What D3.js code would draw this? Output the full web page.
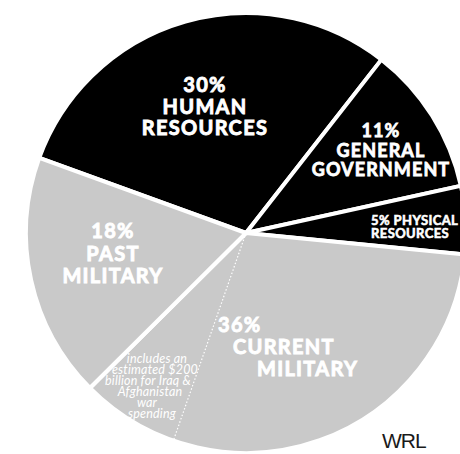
<!DOCTYPE html>
<html><head><meta charset="utf-8">
<script src="https://cdnjs.cloudflare.com/ajax/libs/d3/7.8.5/d3.min.js"></script>
<style>body{margin:0;background:#fff}svg{display:block}</style>
</head><body>
<svg id="c" width="460" height="454"></svg>
<script>
const categories = ["HUMAN RESOURCES","GENERAL GOVERNMENT","PHYSICAL RESOURCES","CURRENT MILITARY","PAST MILITARY"];
const values = [30, 11, 5, 36, 18];
const percentLabels = ["30%","11%","5%","36%","18%"];
const sliceTone = ["dark","dark","dark","light","light"];
// share of total (percent) inside Current Military that is Iraq & Afghanistan war spending
const warSpendingShare = [7.2];
const noteLines = ["includes an","estimated $200","billion for Iraq &","Afghanistan","war","spending"];

const svg = d3.select("#c");
const cx = 246, cy = 233, R = 220;
const g = svg.append("g").attr("transform", `translate(${cx},${cy})`);
const start = -70 * Math.PI / 180;
const pie = d3.pie().sort(null).value(d => d).startAngle(start).endAngle(start + 2 * Math.PI);
const arcs = pie(values);
const arc = d3.arc().innerRadius(0).outerRadius(R);
const color = d3.scaleOrdinal().domain(["dark","light"]).range(["#000000","#c9c9c9"]);

g.selectAll("path.slice").data(arcs).join("path")
  .attr("class","slice")
  .attr("d", arc)
  .attr("fill", (d,i) => color(sliceTone[i]))
  .attr("stroke", "#fff").attr("stroke-width", 4).attr("stroke-linejoin","round");

// dotted line inside current military
const cm = arcs[3];
const a = cm.endAngle - (warSpendingShare[0] / 100) * 2 * Math.PI;
g.append("line")
  .attr("x1", 0).attr("y1", 0)
  .attr("x2", R * Math.sin(a)).attr("y2", -R * Math.cos(a))
  .attr("stroke", "#fff").attr("stroke-width", 1.2).attr("stroke-dasharray", "1.5,2");

const font = "Lato, 'Open Sans', sans-serif";
function block(lines, x, y, size, lh, anchor, ls) {
  const t = svg.append("text").attr("fill", "#fff").attr("font-family", font)
    .attr("font-weight", 700).attr("font-size", size).attr("text-anchor", anchor)
    .attr("stroke", "#fff").attr("stroke-width", size * 0.045)
    .attr("letter-spacing", ls);
  lines.forEach((l, i) => {
    const xx = Array.isArray(x) ? x[i] : x;
    t.append("tspan").attr("x", xx).attr("y", y + i * lh).text(l);
  });
  return t;
}
block([percentLabels[0], "HUMAN", "RESOURCES"], 205, 92, 20, 21.5, "middle", 1.3);
block([percentLabels[1], "GENERAL", "GOVERNMENT"], 381, 137, 18, 19.5, "middle", 1.1);
block([percentLabels[2] + " PHYSICAL", "RESOURCES"], 371, 225, 13, 12.5, "start", 0.4);
block([percentLabels[4], "PAST", "MILITARY"], 113, 238, 20, 22.5, "middle", 1.3);
block([percentLabels[3], "CURRENT", "MILITARY"], [218, 233, 257], 332, 20, 22, "start", 1.3);

const note = svg.append("text").attr("fill","#fff").attr("font-family", font)
  .attr("font-style","italic").attr("font-weight",400).attr("font-size",12.5)
  .attr("text-anchor","middle").attr("letter-spacing",0.2);
const noteX = [157, 155, 148, 150, 147, 152];
noteLines.forEach((l,i) => note.append("tspan").attr("x", noteX[i]).attr("y", 363 + i * 11).text(l));

svg.append("text").attr("x", 382).attr("y", 448).attr("font-family","'Liberation Sans', Arial, sans-serif")
  .attr("font-size", 21).attr("fill","#1a1a1a").attr("letter-spacing",-1).text("WRL");
</script>
</body></html>
